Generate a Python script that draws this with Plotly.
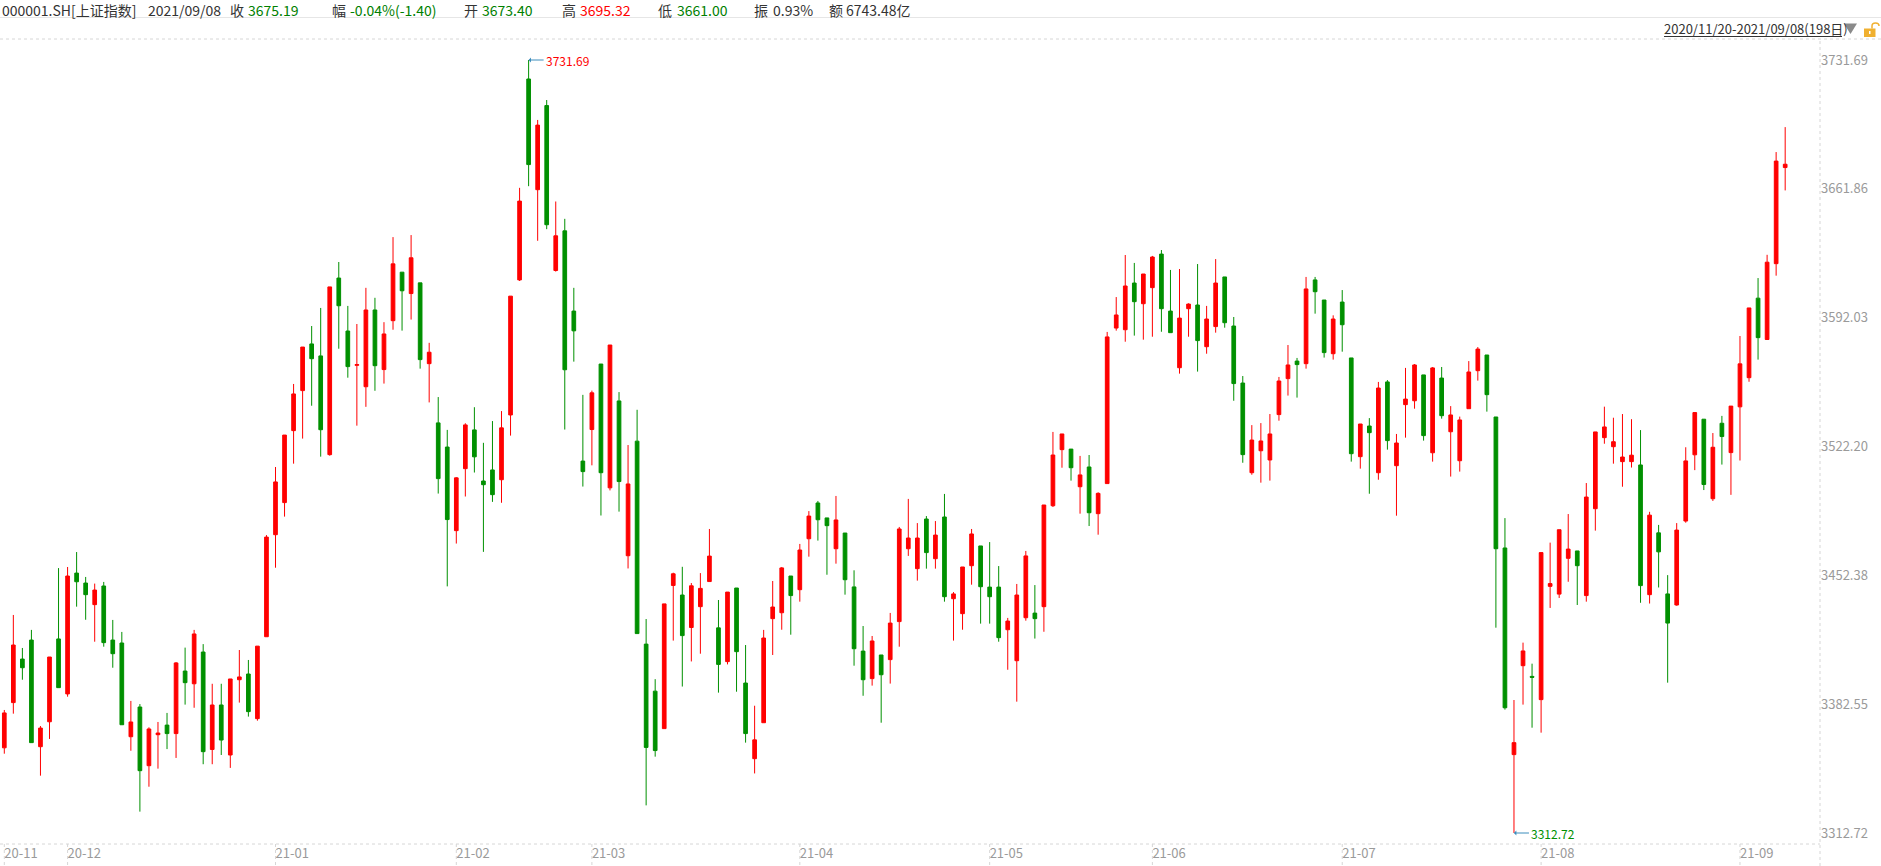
import plotly.graph_objects as go

# daily K-line of 000001.SH, 2020/11/20 - 2021/09/08 (198 trading days)
opens = [
    3358.9, 3383.4, 3407.0, 3417.3, 3359.5, 3373.0, 3417.9, 3388.1, 3453.6, 3448.2,
    3436.5, 3446.6, 3417.3, 3415.7, 3364.9, 3381.0, 3349.2, 3366.0, 3371.2, 3366.6,
    3400.5, 3393.6, 3410.8, 3358.0, 3382.1, 3355.0, 3395.8, 3398.9, 3374.7, 3419.1,
    3474.4, 3491.8, 3530.8, 3552.5, 3577.8, 3571.3, 3517.8, 3613.5, 3584.8, 3566.2,
    3554.6, 3596.2, 3563.9, 3590.4, 3616.7, 3605.1, 3610.9, 3567.1, 3535.0, 3521.9,
    3476.6, 3510.2, 3531.2, 3503.5, 3509.5, 3504.2, 3539.3, 3612.5, 3721.4, 3661.4,
    3707.0, 3617.6, 3639.1, 3595.6, 3514.3, 3531.4, 3566.9, 3499.8, 3546.9, 3463.0,
    3525.1, 3415.1, 3389.6, 3369.3, 3446.9, 3441.7, 3424.1, 3435.4, 3449.0, 3423.9,
    3405.6, 3445.5, 3394.0, 3353.0, 3372.5, 3428.9, 3432.1, 3452.0, 3444.6, 3472.2,
    3491.6, 3483.5, 3466.8, 3475.3, 3446.1, 3411.3, 3396.4, 3409.2, 3406.7, 3427.3,
    3466.8, 3456.0, 3482.9, 3461.4, 3484.0, 3439.7, 3431.6, 3457.6, 3468.3, 3446.0,
    3446.0, 3422.9, 3406.1, 3429.4, 3431.9, 3435.4, 3490.1, 3520.5, 3520.8, 3500.4,
    3511.1, 3485.8, 3502.1, 3586.4, 3585.5, 3610.8, 3599.6, 3608.3, 3626.5, 3595.6,
    3564.9, 3596.9, 3598.9, 3576.3, 3587.2, 3614.1, 3587.5, 3556.6, 3508.0, 3519.9,
    3514.9, 3539.5, 3559.0, 3568.5, 3567.1, 3612.5, 3601.6, 3572.5, 3600.5, 3570.2,
    3516.7, 3533.3, 3508.0, 3557.2, 3511.8, 3544.9, 3547.0, 3561.0, 3518.8, 3559.3,
    3530.2, 3514.5, 3542.7, 3563.3, 3571.8, 3538.2, 3467.2, 3355.2, 3403.4, 3397.6,
    3385.0, 3446.4, 3442.2, 3461.6, 3465.6, 3441.4, 3488.5, 3527.0, 3522.1, 3514.0,
    3514.0, 3512.2, 3441.9, 3475.4, 3442.3, 3436.3, 3481.8, 3517.7, 3537.0, 3493.9,
    3534.8, 3518.9, 3543.7, 3559.5, 3602.6, 3580.2, 3621.3, 3673.40,
]
highs = [
    3379.4, 3430.9, 3413.0, 3422.8, 3370.7, 3408.1, 3456.3, 3456.9, 3465.0, 3451.5,
    3447.9, 3448.8, 3428.2, 3421.7, 3384.3, 3382.6, 3370.0, 3372.9, 3377.8, 3405.4,
    3413.2, 3422.8, 3415.1, 3393.6, 3393.6, 3396.2, 3411.9, 3406.5, 3414.0, 3474.2,
    3511.1, 3528.4, 3556.1, 3576.1, 3587.5, 3597.3, 3608.7, 3622.2, 3598.4, 3588.6,
    3608.2, 3602.8, 3589.6, 3635.7, 3616.7, 3636.8, 3610.9, 3578.4, 3549.0, 3531.2,
    3505.6, 3534.8, 3543.5, 3524.2, 3536.0, 3541.4, 3603.7, 3662.4, 3731.69, 3699.2,
    3710.0, 3655.0, 3645.6, 3608.2, 3550.2, 3552.5, 3566.9, 3577.2, 3551.7, 3523.0,
    3542.1, 3428.7, 3396.1, 3436.9, 3453.8, 3457.0, 3448.2, 3453.6, 3477.5, 3439.0,
    3443.3, 3445.5, 3414.6, 3381.7, 3422.8, 3449.3, 3456.9, 3452.0, 3469.4, 3487.2,
    3492.7, 3483.5, 3495.4, 3475.3, 3455.1, 3424.9, 3419.5, 3409.2, 3432.0, 3478.6,
    3493.8, 3480.7, 3484.5, 3481.8, 3496.5, 3443.3, 3456.9, 3477.5, 3468.3, 3470.4,
    3457.4, 3429.3, 3447.7, 3465.6, 3447.1, 3490.5, 3530.1, 3529.0, 3520.8, 3517.1,
    3517.6, 3497.4, 3584.3, 3603.2, 3626.0, 3621.7, 3615.7, 3625.5, 3628.7, 3617.9,
    3618.4, 3599.8, 3621.1, 3598.4, 3623.8, 3614.1, 3592.4, 3560.4, 3533.8, 3534.9,
    3539.8, 3559.9, 3577.2, 3570.2, 3614.1, 3614.1, 3601.6, 3593.3, 3607.0, 3570.2,
    3534.4, 3537.6, 3557.2, 3558.2, 3529.0, 3564.8, 3566.9, 3561.0, 3565.3, 3565.3,
    3544.1, 3538.4, 3568.5, 3576.1, 3571.8, 3538.2, 3483.4, 3384.8, 3415.9, 3404.5,
    3464.7, 3470.1, 3477.1, 3485.6, 3465.6, 3502.4, 3530.1, 3543.8, 3537.8, 3539.8,
    3537.0, 3531.1, 3486.8, 3479.7, 3452.5, 3480.7, 3521.8, 3540.6, 3537.0, 3529.5,
    3538.8, 3544.1, 3582.1, 3597.3, 3613.5, 3626.1, 3681.8, 3695.32,
]
lows = [
    3355.7, 3377.4, 3395.8, 3361.7, 3343.8, 3363.7, 3391.5, 3386.6, 3435.4, 3428.3,
    3416.4, 3413.7, 3402.3, 3371.4, 3357.3, 3324.3, 3337.8, 3347.6, 3358.2, 3353.4,
    3382.3, 3380.6, 3350.0, 3350.0, 3355.0, 3348.0, 3383.4, 3375.8, 3373.6, 3419.1,
    3456.5, 3484.2, 3512.9, 3526.5, 3544.3, 3516.7, 3517.2, 3575.2, 3559.5, 3533.5,
    3543.7, 3552.4, 3556.3, 3585.5, 3585.0, 3591.0, 3564.4, 3546.1, 3496.7, 3446.4,
    3469.6, 3495.1, 3508.1, 3465.1, 3492.2, 3491.7, 3528.1, 3611.9, 3663.3, 3633.7,
    3640.0, 3617.0, 3531.4, 3568.2, 3500.5, 3512.0, 3484.8, 3498.4, 3486.9, 3456.1,
    3420.8, 3327.7, 3354.1, 3369.3, 3417.0, 3392.1, 3405.7, 3409.9, 3449.0, 3388.8,
    3404.1, 3389.3, 3361.7, 3345.0, 3372.5, 3409.2, 3422.9, 3420.2, 3438.1, 3462.5,
    3471.2, 3452.7, 3458.7, 3441.9, 3403.4, 3387.1, 3392.6, 3372.5, 3393.7, 3413.7,
    3462.9, 3449.5, 3456.0, 3456.0, 3438.1, 3417.0, 3422.9, 3447.3, 3426.2, 3426.2,
    3416.4, 3401.2, 3383.9, 3427.8, 3418.1, 3421.8, 3489.4, 3510.7, 3503.7, 3485.8,
    3479.1, 3474.4, 3502.1, 3585.0, 3579.0, 3582.3, 3580.1, 3581.7, 3584.4, 3583.9,
    3561.7, 3581.7, 3562.8, 3572.5, 3583.9, 3586.6, 3547.0, 3513.4, 3506.9, 3502.6,
    3503.7, 3536.2, 3549.8, 3548.7, 3564.4, 3594.2, 3570.4, 3569.3, 3573.6, 3514.0,
    3510.2, 3496.6, 3504.2, 3520.5, 3484.7, 3527.0, 3542.7, 3525.4, 3514.0, 3537.3,
    3505.9, 3508.6, 3542.7, 3557.9, 3541.1, 3424.0, 3379.6, 3312.72, 3382.3, 3369.8,
    3367.1, 3434.7, 3440.1, 3448.9, 3436.3, 3438.1, 3476.6, 3523.7, 3512.9, 3500.4,
    3510.8, 3437.5, 3437.1, 3445.8, 3394.2, 3435.9, 3480.9, 3509.4, 3498.6, 3492.7,
    3512.4, 3496.0, 3514.6, 3557.3, 3569.3, 3580.2, 3614.8, 3661.00,
]
closes = [
    3377.8, 3414.6, 3402.3, 3361.7, 3369.6, 3408.1, 3391.5, 3452.0, 3448.9, 3441.9,
    3444.4, 3415.9, 3409.9, 3371.4, 3372.9, 3346.5, 3369.1, 3366.9, 3366.6, 3404.9,
    3394.2, 3420.6, 3356.8, 3382.1, 3363.1, 3396.2, 3397.3, 3378.5, 3414.0, 3473.1,
    3503.0, 3528.4, 3550.7, 3576.1, 3569.8, 3531.3, 3608.7, 3598.5, 3565.5, 3566.6,
    3596.2, 3566.0, 3583.2, 3621.2, 3606.6, 3624.5, 3569.3, 3573.3, 3504.8, 3482.6,
    3505.2, 3533.9, 3516.6, 3501.5, 3496.1, 3532.3, 3603.7, 3655.2, 3675.0, 3696.4,
    3642.4, 3636.4, 3563.8, 3584.9, 3508.6, 3551.3, 3508.0, 3577.2, 3503.2, 3501.9,
    3420.8, 3359.1, 3357.4, 3436.9, 3453.2, 3419.7, 3446.7, 3445.3, 3462.8, 3404.1,
    3443.3, 3411.0, 3366.6, 3363.2, 3418.4, 3435.2, 3456.4, 3441.4, 3466.1, 3484.5,
    3482.5, 3479.3, 3482.4, 3450.0, 3412.6, 3395.8, 3416.8, 3398.5, 3426.5, 3477.5,
    3472.6, 3472.6, 3464.7, 3474.2, 3440.8, 3442.3, 3456.9, 3474.8, 3446.2, 3440.8,
    3418.6, 3427.6, 3441.7, 3462.9, 3428.9, 3490.5, 3517.6, 3529.0, 3510.7, 3506.8,
    3486.3, 3496.8, 3581.6, 3593.5, 3609.2, 3600.7, 3615.7, 3624.9, 3596.9, 3583.9,
    3591.8, 3599.4, 3579.6, 3591.3, 3610.8, 3589.3, 3556.3, 3517.8, 3525.7, 3525.2,
    3529.0, 3557.7, 3566.4, 3566.6, 3607.6, 3606.1, 3573.1, 3591.3, 3588.2, 3518.3,
    3534.4, 3529.7, 3553.9, 3525.4, 3524.1, 3547.9, 3566.4, 3528.1, 3564.8, 3538.9,
    3539.3, 3536.6, 3562.6, 3575.0, 3550.3, 3466.8, 3380.6, 3361.7, 3411.4, 3397.1,
    3464.7, 3447.9, 3477.1, 3466.6, 3457.6, 3494.8, 3530.1, 3532.8, 3524.8, 3516.5,
    3517.5, 3446.8, 3485.0, 3465.1, 3426.5, 3476.9, 3514.4, 3540.6, 3501.6, 3521.8,
    3527.6, 3544.1, 3567.0, 3597.3, 3581.2, 3622.1, 3676.9, 3675.19,
]

# first trading day of each month and its label
month_start = [0, 7, 30, 50, 65, 88, 109, 127, 148, 170, 192]
month_labels = ['20-11', '20-12', '21-01', '21-02', '21-03', '21-04',
                '21-05', '21-06', '21-07', '21-08', '21-09']

# right axis ticks
price_ticks = [3312.72, 3382.55, 3452.38, 3522.20, 3592.03, 3661.86, 3731.69]

# header quote line
header = [
    ('000001.SH[上证指数]', '#333333'), ('2021/09/08', '#333333'),
    ('收', '#333333'), ('3675.19', '#008000'),
    ('幅', '#333333'), ('-0.04%(-1.40)', '#008000'),
    ('开', '#333333'), ('3673.40', '#008000'),
    ('高', '#333333'), ('3695.32', '#ff0000'),
    ('低', '#333333'), ('3661.00', '#008000'),
    ('振', '#333333'), ('0.93%', '#333333'),
    ('额', '#333333'), ('6743.48亿', '#333333'),
]
header_x = [0, 146, 228, 246, 330, 348, 462, 480, 560, 578, 656, 675, 752, 771, 827, 844]
range_text = '2020/11/20-2021/09/08(198日)'

W, H = 1881, 866
PL, PR, PT, PB = 0, 1820, 39, 844   # plot area in pixels
FONT = 'Microsoft YaHei, Noto Sans CJK SC, sans-serif'
RED = '#ff0000'
GREEN = '#009000'


def px(x):
    return (x - PL) / (PR - PL)


def py(y):
    return (PB - y) / (PB - PT)


x_idx = list(range(len(closes)))

fig = go.Figure()
fig.add_trace(go.Candlestick(
    x=x_idx, open=opens, high=highs, low=lows, close=closes,
    increasing=dict(line=dict(color=RED, width=1), fillcolor=RED),
    decreasing=dict(line=dict(color=GREEN, width=1), fillcolor=GREEN),
    whiskerwidth=0,
    hoverinfo='x+y',
    showlegend=False,
))

# price -> pixel scale: 3731.69 at y=60, 3312.72 at y=833
k = (3731.69 - 3312.72) / (833 - 60)
y_top = 3731.69 + (60 - PT) * k
y_bot = 3312.72 - (PB - 833) * k
pitch = 9.04
x0 = 4.3

shapes = []
dot = dict(color='#d6d6d6', width=1, dash='dot')
# header separator
shapes.append(dict(type='line', xref='paper', yref='paper', x0=px(0), x1=px(W),
                   y0=py(17.5), y1=py(17.5), line=dict(color='#e6e6e6', width=1)))
# frame: top, right, bottom
shapes.append(dict(type='line', xref='paper', yref='paper', x0=px(0), x1=px(W),
                   y0=1, y1=1, line=dot))
shapes.append(dict(type='line', xref='paper', yref='paper', x0=1, x1=1,
                   y0=py(H), y1=1, line=dot))
shapes.append(dict(type='line', xref='paper', yref='paper', x0=0, x1=1,
                   y0=0, y1=0, line=dot))
# month separators below the axis
for m in month_start:
    shapes.append(dict(type='line', xref='x', yref='paper', x0=m, x1=m,
                       y0=0, y1=py(H), line=dot))
# underline of range text, dropdown triangle, lock icon
shapes.append(dict(type='line', xref='paper', yref='paper', x0=px(1664), x1=px(1842),
                   y0=py(36.5), y1=py(36.5), line=dict(color='#333333', width=1)))
shapes.append(dict(type='path', xref='paper', yref='paper',
                   path=f'M {px(1844)},{py(23.5)} L {px(1857)},{py(23.5)} L {px(1850.5)},{py(34)} Z',
                   fillcolor='#8a8a8a', line=dict(width=0)))
shapes.append(dict(type='rect', xref='paper', yref='paper', x0=px(1864), x1=px(1875.5),
                   y0=py(37), y1=py(28.5), fillcolor='#f0b030', line=dict(width=0)))
shapes.append(dict(type='path', xref='paper', yref='paper',
                   path=(f'M {px(1872)},{py(28.5)} L {px(1872)},{py(26)} '
                         f'Q {px(1872)},{py(23)} {px(1875.5)},{py(23)} '
                         f'Q {px(1879)},{py(23)} {px(1879)},{py(26)}'),
                   line=dict(color='#f0b030', width=1.5)))
shapes.append(dict(type='rect', xref='paper', yref='paper', x0=px(1869), x1=px(1870.5),
                   y0=py(34), y1=py(31), fillcolor='#ffffff', line=dict(width=0)))

annotations = []
for (txt, col), hx in zip(header, header_x):
    annotations.append(dict(text=txt, xref='paper', yref='paper', x=px(hx), y=py(10),
                            xanchor='left', yanchor='middle', showarrow=False,
                            font=dict(size=14, color=col, family=FONT)))
annotations.append(dict(text=range_text, xref='paper', yref='paper', x=px(1662), y=py(29),
                        xanchor='left', yanchor='middle', showarrow=False,
                        font=dict(size=13, color='#333333', family=FONT)))

# extreme markers
i_hi = max(range(len(highs)), key=lambda i: highs[i])
i_lo = min(range(len(lows)), key=lambda i: lows[i])
for i, val, col in [(i_hi, highs[i_hi], RED), (i_lo, lows[i_lo], GREEN)]:
    annotations.append(dict(text=f'{val:.2f}', x=i, y=val, xref='x', yref='y',
                            showarrow=True, ax=15, ay=0, xanchor='left',
                            arrowhead=1, arrowsize=0.8, arrowwidth=1,
                            arrowcolor='#3c8dbc', standoff=0,
                            font=dict(size=12, color=col, family=FONT)))

fig.update_layout(
    width=W, height=H,
    margin=dict(l=PL, r=W - PR, t=PT, b=H - PB, pad=0),
    paper_bgcolor='white', plot_bgcolor='white',
    boxgap=0.42,
    showlegend=False,
    hovermode='closest',
    shapes=shapes,
    annotations=annotations,
    xaxis=dict(
        range=[-x0 / pitch, (PR - PL - x0) / pitch],
        tickvals=month_start, ticktext=month_labels,
        ticks='', showgrid=False, zeroline=False, showline=False,
        ticklabelposition='outside right',
        tickfont=dict(size=13, color='#9a9a9a', family=FONT),
        rangeslider=dict(visible=False),
        fixedrange=True,
    ),
    yaxis=dict(
        range=[y_bot, y_top], side='right',
        tickvals=price_ticks, ticktext=[f'{v:.2f}' for v in price_ticks],
        ticks='', showgrid=False, zeroline=False, showline=False,
        tickfont=dict(size=13, color='#9a9a9a', family=FONT),
        fixedrange=True,
    ),
)

# the page body has a default 8px margin; drop it so the figure fills the window
fig.write_html('out.html',
               config={'displayModeBar': False},
               post_script="document.body.style.margin='0';document.body.style.overflow='hidden';")
